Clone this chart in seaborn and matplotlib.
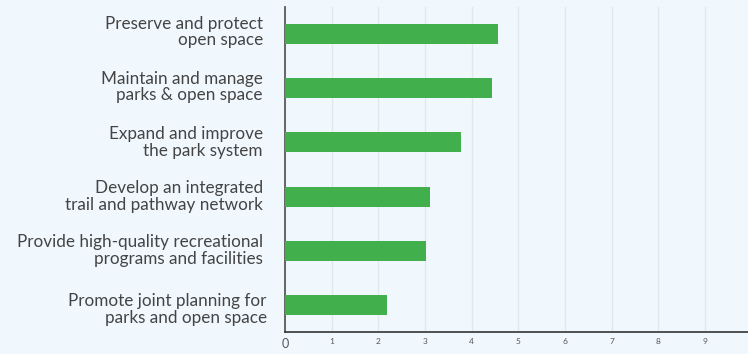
import pandas as pd
import matplotlib.pyplot as plt
import matplotlib.transforms as mtransforms
import seaborn as sns

# Objetivos y puntuaciones
objetivos = [
    "Preserve and protect\nopen space",
    "Maintain and manage\nparks & open space",
    "Expand and improve\nthe park system",
    "Develop an integrated\ntrail and pathway network",
    "Provide high-quality recreational\nprograms and facilities",
    "Promote joint planning for\nparks and open space",
]
puntuacion = [4.56, 4.43, 3.77, 3.10, 3.02, 2.18]
ticks_x = [0, 1, 2, 3, 4, 5, 6, 7, 8, 9]

df = pd.DataFrame({"objetivo": objetivos, "puntuacion": puntuacion})

fondo = "#f0f8fe"
sns.set_theme(style="white")
plt.rcParams["font.family"] = ["Lato", "DejaVu Sans"]

fig = plt.figure(figsize=(7.48, 3.54), dpi=100, facecolor=fondo)
ax = fig.add_axes([285 / 748, 22 / 354, 1 - 285 / 748, 325 / 354])
ax.set_facecolor(fondo)

sns.barplot(data=df, x="puntuacion", y="objetivo", color="#41af4c",
            saturation=1, width=0.37, linewidth=0, ax=ax, zorder=3)

ax.set_xlim(0, 9.92)
ax.set_ylim(5.5, -0.5)
ax.set_xticks(ticks_x)
ax.set_xticklabels([str(t) for t in ticks_x])
ax.grid(axis="x", color="#e1e8ec", linewidth=1, zorder=0)
ax.set_xlabel("")
ax.set_ylabel("")

for s in ["top", "right"]:
    ax.spines[s].set_visible(False)
ax.spines["left"].set_color("#5a5a5a")
ax.spines["left"].set_linewidth(1.3)
ax.spines["bottom"].set_color("#333333")
ax.spines["bottom"].set_linewidth(1.2)

ax.tick_params(axis="y", length=0, pad=16, labelsize=12.3, labelcolor="#444444")
ax.tick_params(axis="x", length=0, pad=4, labelsize=6, labelcolor="#555555")

# pequeños ajustes de posición de las etiquetas (px)
desplaz = [(0, 4), (0, 3), (0, 2), (0, 2), (0, 2), (4, -3)]
for lab, (dx, dy) in zip(ax.get_yticklabels(), desplaz):
    lab.set_horizontalalignment("right")
    lab.set_linespacing(1.05)
    lab.set_transform(lab.get_transform() +
                      mtransforms.ScaledTranslation(dx / 100, dy / 100, fig.dpi_scale_trans))
xl = ax.get_xticklabels()
xl[0].set_fontsize(9)
xl[0].set_va("top")

plt.savefig("out.png", dpi=100, facecolor=fondo)
